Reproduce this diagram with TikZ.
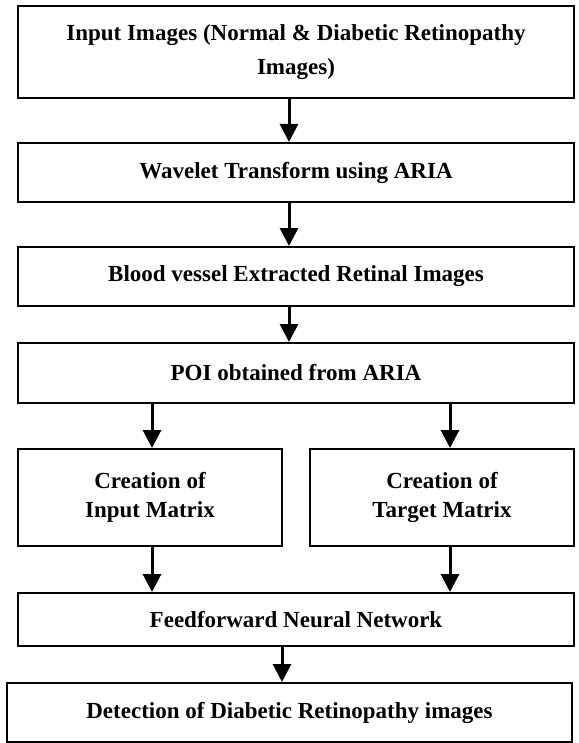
\documentclass[tikz,border=0pt]{standalone}
\usepackage{fontspec}
\setmainfont{Liberation Serif}
\usetikzlibrary{arrows.meta}

\tikzset{
  box/.style={draw=black, line width=2pt, rectangle, inner sep=0pt,
    align=center, font=\fontsize{23}{34}\selectfont\bfseries},
  boxtight/.style={box, font=\fontsize{23}{29.5}\selectfont\bfseries},
  arr/.style={line width=3pt, -{Triangle[length=18pt,width=18pt]}}
}

\begin{document}
\begin{tikzpicture}[x=1pt,y=1pt]
\useasboundingbox (0,0) rectangle (578,-743);

% processing stages
\node[box, minimum width=556, minimum height=92] (b1) at (296,-52)
  {Input Images (Normal \& Diabetic Retinopathy\\Images)};
\node[box, minimum width=556, minimum height=59] (b2) at (296,-172.5)
  {Wavelet Transform using ARIA};
\node[box, minimum width=556, minimum height=59] (b3) at (296,-276.5)
  {Blood vessel Extracted Retinal Images};
\node[box, minimum width=556, minimum height=60] (b4) at (296,-373)
  {POI obtained from ARIA};
\node[boxtight, minimum width=264, minimum height=97] (b5a) at (150,-497.5)
  {Creation of\\Input Matrix};
\node[boxtight, minimum width=264, minimum height=97] (b5b) at (442,-497.5)
  {Creation of\\Target Matrix};
\node[box, minimum width=556, minimum height=53] (b6) at (296,-619.5)
  {Feedforward Neural Network};
\node[box, minimum width=565, minimum height=59] (b7) at (289.5,-712.5)
  {Detection of Diabetic Retinopathy images};

% column positions of the branch arrows
\coordinate (ca) at ([xshift=2pt]b5a.north);
\coordinate (cb) at ([xshift=8pt]b5b.north);

% connectors
\draw[arr] ([xshift=-7pt]b1.south) -- ([xshift=-7pt]b2.north);
\draw[arr] ([xshift=-7pt]b2.south) -- ([xshift=-7pt]b3.north);
\draw[arr] ([xshift=-7pt]b3.south) -- ([xshift=-7pt]b4.north);
\draw[arr] (ca |- b4.south) -- (ca);
\draw[arr] (cb |- b4.south) -- (cb);
\draw[arr] (ca |- b5a.south) -- (ca |- b6.north);
\draw[arr] (cb |- b5b.south) -- (cb |- b6.north);
\draw[arr] ([xshift=-14pt]b6.south) -- ([xshift=-7.5pt]b7.north);
\end{tikzpicture}
\end{document}
